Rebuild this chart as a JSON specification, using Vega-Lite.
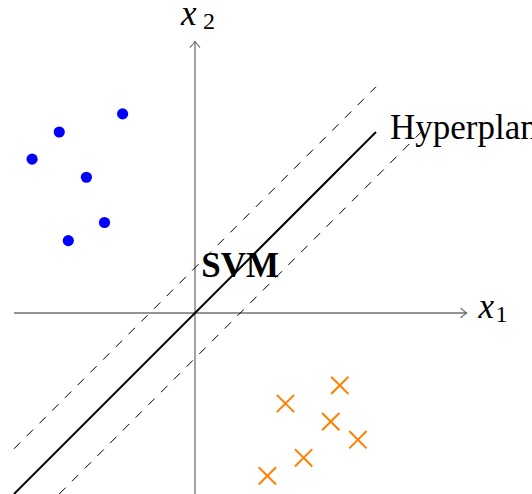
{
  "$schema": "https://vega.github.io/schema/vega-lite/v6.json",
  "width": 532,
  "height": 494,
  "autosize": "none",
  "padding": 0,
  "background": "white",
  "config": {"view": {"stroke": null}},
  "encoding": {
    "x": {"type": "quantitative", "scale": {"domain": [-2.1547, 3.7238], "nice": false, "zero": false}, "axis": null},
    "y": {"type": "quantitative", "scale": {"domain": [-2.0, 3.4586], "nice": false, "zero": false}, "axis": null}
  },
  "layer": [
    {
      "data": {"values": [
        {"name": "x1 axis", "x": -2, "y": 0, "x2": 3, "y2": 0},
        {"name": "x2 axis", "x": 0, "y": -2, "x2": 0, "y2": 3}
      ]},
      "mark": {"type": "rule", "color": "#707070", "strokeWidth": 1.3},
      "encoding": {"x": {"field": "x"}, "y": {"field": "y"}, "x2": {"field": "x2"}, "y2": {"field": "y2"}}
    },
    {
      "data": {"values": [{"x": 3, "y": 0}]},
      "mark": {"type": "point", "shape": "M-1.2,-1Q-0.4,-0.3,0,0Q-0.4,0.3,-1.2,1", "filled": false, "stroke": "#404040", "strokeWidth": 1.2, "size": 100},
      "encoding": {"x": {"field": "x"}, "y": {"field": "y"}}
    },
    {
      "data": {"values": [{"x": 0, "y": 3}]},
      "mark": {"type": "point", "shape": "M-1,1.2Q-0.3,0.4,0,0Q0.3,0.4,1,1.2", "filled": false, "stroke": "#404040", "strokeWidth": 1.2, "size": 100},
      "encoding": {"x": {"field": "x"}, "y": {"field": "y"}}
    },
    {
      "data": {"values": [
        {"name": "upper margin", "x": -2, "y": -1.5, "x2": 2, "y2": 2.5},
        {"name": "lower margin", "x": -1.5, "y": -2, "x2": 2.5, "y2": 2}
      ]},
      "mark": {"type": "rule", "color": "#000000", "strokeWidth": 1, "strokeDash": [9, 9]},
      "encoding": {"x": {"field": "x"}, "y": {"field": "y"}, "x2": {"field": "x2"}, "y2": {"field": "y2"}}
    },
    {
      "data": {"values": [{"name": "hyperplane", "x": -2, "y": -2, "x2": 2, "y2": 2}]},
      "mark": {"type": "rule", "color": "#000000", "strokeWidth": 2},
      "encoding": {"x": {"field": "x"}, "y": {"field": "y"}, "x2": {"field": "x2"}, "y2": {"field": "y2"}}
    },
    {
      "data": {"values": [
        {"x": -0.8, "y": 2.2},
        {"x": -1.5, "y": 2.0},
        {"x": -1.8, "y": 1.7},
        {"x": -1.2, "y": 1.5},
        {"x": -1.0, "y": 1.0},
        {"x": -1.4, "y": 0.8}
      ]},
      "mark": {"type": "point", "shape": "circle", "filled": true, "color": "#0000FF", "opacity": 1, "size": 125},
      "encoding": {"x": {"field": "x"}, "y": {"field": "y"}}
    },
    {
      "data": {"values": [
        {"x": 1.6, "y": -0.8},
        {"x": 1.0, "y": -1.0},
        {"x": 1.5, "y": -1.2},
        {"x": 1.8, "y": -1.4},
        {"x": 1.2, "y": -1.6},
        {"x": 0.8, "y": -1.8}
      ]},
      "mark": {"type": "point", "shape": "M-1,-1L1,1M-1,1L1,-1", "filled": false, "stroke": "#FF8000", "strokeWidth": 2, "opacity": 1, "size": 300},
      "encoding": {"x": {"field": "x"}, "y": {"field": "y"}}
    },
    {
      "data": {"values": [{"x": 0, "y": 3, "t": "x"}]},
      "mark": {"type": "text", "font": "Liberation Serif", "fontStyle": "italic", "fontSize": 35, "align": "left", "baseline": "alphabetic", "dx": -14, "dy": -17, "color": "#000000"},
      "encoding": {"x": {"field": "x"}, "y": {"field": "y"}, "text": {"field": "t"}}
    },
    {
      "data": {"values": [{"x": 0, "y": 3, "t": "2"}]},
      "mark": {"type": "text", "font": "Liberation Serif", "fontSize": 24, "align": "left", "baseline": "alphabetic", "dx": 8, "dy": -13, "color": "#000000"},
      "encoding": {"x": {"field": "x"}, "y": {"field": "y"}, "text": {"field": "t"}}
    },
    {
      "data": {"values": [{"x": 3, "y": 0, "t": "x"}]},
      "mark": {"type": "text", "font": "Liberation Serif", "fontStyle": "italic", "fontSize": 35, "align": "left", "baseline": "alphabetic", "dx": 12, "dy": 5, "color": "#000000"},
      "encoding": {"x": {"field": "x"}, "y": {"field": "y"}, "text": {"field": "t"}}
    },
    {
      "data": {"values": [{"x": 3, "y": 0, "t": "1"}]},
      "mark": {"type": "text", "font": "Liberation Serif", "fontSize": 24, "align": "left", "baseline": "alphabetic", "dx": 29, "dy": 9, "color": "#000000"},
      "encoding": {"x": {"field": "x"}, "y": {"field": "y"}, "text": {"field": "t"}}
    },
    {
      "data": {"values": [{"x": 2, "y": 2, "t": "Hyperplane"}]},
      "mark": {"type": "text", "font": "Liberation Serif", "fontSize": 35, "align": "left", "baseline": "alphabetic", "dx": 14, "dy": 7, "color": "#000000"},
      "encoding": {"x": {"field": "x"}, "y": {"field": "y"}, "text": {"field": "t"}}
    },
    {
      "data": {"values": [{"x": 0.5, "y": 0.5, "t": "SVM"}]},
      "mark": {"type": "text", "font": "Liberation Serif", "fontWeight": "bold", "fontSize": 35, "align": "center", "baseline": "alphabetic", "dx": 0, "dy": 9, "color": "#000000"},
      "encoding": {"x": {"field": "x"}, "y": {"field": "y"}, "text": {"field": "t"}}
    }
  ]
}
